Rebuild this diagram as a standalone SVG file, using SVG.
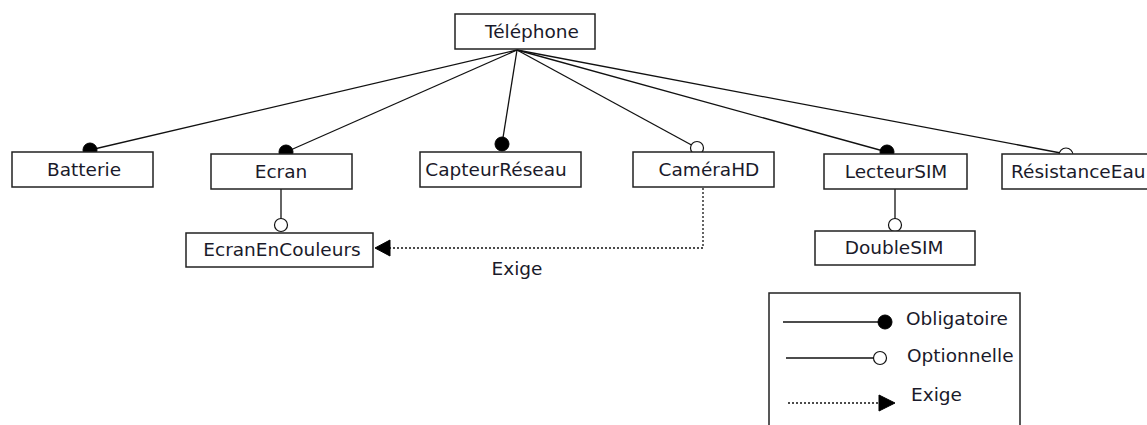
<svg xmlns="http://www.w3.org/2000/svg" width="1147" height="425" viewBox="0 0 1147 425">
<style>
.box{fill:#fff;stroke:#222;stroke-width:1.5}
.t{font-family:"DejaVu Sans",sans-serif;font-size:18.5px;fill:#1a1a2a;text-anchor:middle}
.tl{font-family:"DejaVu Sans",sans-serif;font-size:18.5px;fill:#1a1a2a}
.ln{stroke:#111;stroke-width:1.3;fill:none}
.dot{stroke:#111;stroke-width:1.3;fill:none;stroke-dasharray:2,2}
.full{fill:#000;stroke:#000;stroke-width:1}
.open{fill:#fff;stroke:#111;stroke-width:1.2}
</style>
<rect width="1147" height="425" fill="#fff"/>
<g id="connectors">
<line class="ln" x1="517" y1="50" x2="90" y2="150"/>
<line class="ln" x1="517" y1="50" x2="286" y2="152"/>
<line class="ln" x1="517" y1="50" x2="502" y2="144"/>
<line class="ln" x1="517" y1="50" x2="697" y2="148"/>
<line class="ln" x1="517" y1="50" x2="887" y2="152"/>
<line class="ln" x1="517" y1="50" x2="1066" y2="154"/>
<line class="ln" x1="281" y1="189" x2="281" y2="225"/>
<line class="ln" x1="895" y1="189" x2="895" y2="225"/>
<polyline class="dot" points="703,188 703,248 388,248"/>
<polygon class="full" points="375,248 390,240 390,256"/>
<circle class="full" cx="90" cy="150" r="7"/>
<circle class="full" cx="286" cy="152" r="7"/>
<circle class="full" cx="502" cy="144" r="7"/>
<circle class="open" cx="697" cy="148" r="6.5"/>
<circle class="full" cx="887" cy="152" r="7"/>
<circle class="open" cx="1066" cy="155" r="7"/>
<circle class="open" cx="281" cy="225" r="6.5"/>
<circle class="open" cx="895" cy="225" r="6.5"/>
<text class="t" x="517" y="275">Exige</text>
</g>
<g id="telephone"><rect class="box" x="455" y="14" width="140" height="35"/><text class="t" x="532" y="38">Téléphone</text></g>
<g id="batterie"><rect class="box" x="12" y="152" width="141" height="35"/><text class="t" x="84" y="176">Batterie</text></g>
<g id="ecran"><rect class="box" x="211" y="154" width="141" height="35"/><text class="t" x="281" y="178">Ecran</text></g>
<g id="capteur"><rect class="box" x="420" y="152" width="161" height="35"/><text class="t" x="496" y="176">CapteurRéseau</text></g>
<g id="camera"><rect class="box" x="633" y="152" width="141" height="35"/><text class="t" x="709" y="176">CaméraHD</text></g>
<g id="lecteur"><rect class="box" x="824" y="154" width="143" height="35"/><text class="t" x="896" y="178">LecteurSIM</text></g>
<g id="resistance"><rect class="box" x="1002" y="154" width="160" height="35"/><text class="tl" x="1011" y="178">RésistanceEau</text></g>
<g id="ecrancouleurs"><rect class="box" x="186" y="233" width="187" height="34"/><text class="t" x="282" y="256">EcranEnCouleurs</text></g>
<g id="doublesim"><rect class="box" x="815" y="231" width="160" height="34"/><text class="t" x="894" y="254">DoubleSIM</text></g>
<g id="legend">
<rect class="box" x="769" y="293" width="251" height="150"/>
<line class="ln" x1="783" y1="322" x2="880" y2="322"/>
<circle class="full" cx="885" cy="322" r="7"/>
<text class="tl" x="906" y="325">Obligatoire</text>
<line class="ln" x1="786" y1="358" x2="874" y2="358"/>
<circle class="open" cx="880" cy="358" r="6.5"/>
<text class="tl" x="907" y="362">Optionnelle</text>
<line class="dot" x1="788" y1="403" x2="880" y2="403"/>
<polygon class="full" points="895,403 879,395 879,411"/>
<text class="tl" x="911" y="401">Exige</text>
</g>
</svg>
